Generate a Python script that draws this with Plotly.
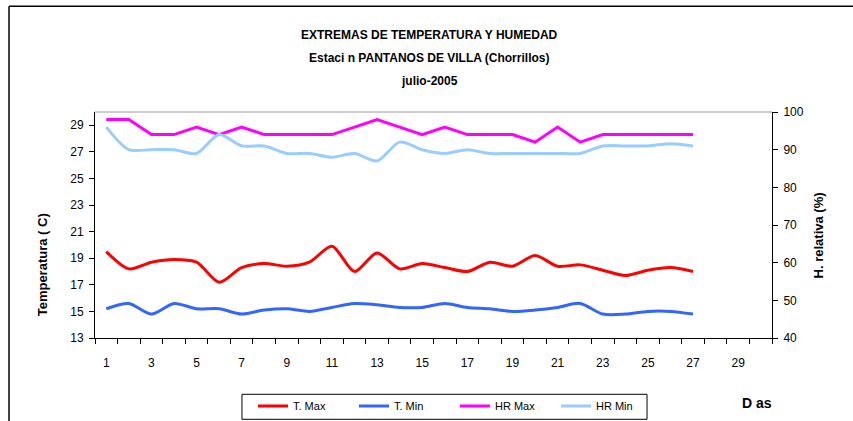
import plotly.graph_objects as go

days = list(range(1, 28))
t_max = [19.5, 18.2, 18.7, 18.9, 18.7, 17.2, 18.3, 18.6, 18.4, 18.7, 19.9, 18.0, 19.4, 18.2,
         18.6, 18.3, 18.0, 18.7, 18.4, 19.2, 18.4, 18.5, 18.1, 17.7, 18.1, 18.3, 18.0]
t_min = [15.2, 15.6, 14.8, 15.6, 15.2, 15.2, 14.8, 15.1, 15.2, 15.0, 15.3, 15.6, 15.5, 15.3,
         15.3, 15.6, 15.3, 15.2, 15.0, 15.1, 15.3, 15.6, 14.8, 14.8, 15.0, 15.0, 14.8]
hr_max = [98, 98, 94, 94, 96, 94, 96, 94, 94, 94, 94, 96, 98, 96,
          94, 96, 94, 94, 94, 92, 96, 92, 94, 94, 94, 94, 94]
hr_min = [96, 90, 90, 90, 89, 94, 91, 91, 89, 89, 88, 89, 87, 92,
          90, 89, 90, 89, 89, 89, 89, 89, 91, 91, 91, 91.6, 91]
x_ticks = list(range(1, 30, 2))

FONT = "Liberation Sans, Arial, sans-serif"

fig = go.Figure()
fig.add_trace(go.Scatter(x=days, y=t_max, name="T. Max", mode="lines",
                         line=dict(color="#FF0000", width=3, shape="spline", smoothing=0.8)))
fig.add_trace(go.Scatter(x=days, y=t_min, name="T. Min", mode="lines",
                         line=dict(color="#3366FF", width=3, shape="spline", smoothing=0.8)))
fig.add_trace(go.Scatter(x=days, y=hr_max, name="HR Max", mode="lines", yaxis="y2",
                         line=dict(color="#FF00FF", width=3)))
fig.add_trace(go.Scatter(x=days, y=hr_min, name="HR Min", mode="lines", yaxis="y2",
                         line=dict(color="#99CCFF", width=3, shape="spline", smoothing=0.8)))

def ann(text, x, y, size, angle=0):
    return dict(text=text, xref="paper", yref="paper", x=x, y=y, xanchor="center",
                yanchor="middle", showarrow=False, textangle=angle, font=dict(size=size))

fig.update_layout(
    width=853, height=421,
    margin=dict(l=95, r=81, t=112, b=83),
    paper_bgcolor="white", plot_bgcolor="white",
    font=dict(family=FONT, size=12, color="black"),
    showlegend=True,
    legend=dict(orientation="h", xref="container", yref="container",
                x=242/853, y=(421-406)/421, xanchor="left", yanchor="middle",
                borderwidth=0, bgcolor="rgba(0,0,0,0)",
                font=dict(size=11), entrywidth=45, entrywidthmode="pixels",
                indentation=11, tracegroupgap=0),
    xaxis=dict(range=[0.5, 30.5], tickvals=x_ticks, ticktext=[str(v) for v in x_ticks],
               ticks="", showgrid=False, zeroline=False, showline=True,
               linecolor="black", linewidth=1, ticklabelstandoff=14,
               tickfont=dict(size=12),
               minor=dict(tickvals=[0.5 + i for i in range(31)], ticks="outside",
                          ticklen=5, tickcolor="black", showgrid=False)),
    yaxis=dict(range=[13, 30], tickvals=list(range(13, 30, 2)), ticks="outside",
               ticklen=5, tickcolor="black", showgrid=False, zeroline=False,
               showline=True, linecolor="black", linewidth=1, ticklabelstandoff=3),
    yaxis2=dict(range=[40, 100], tickvals=list(range(40, 101, 10)), overlaying="y",
                side="right", ticks="outside", ticklen=5, tickcolor="black",
                showgrid=False, zeroline=False, showline=True, linecolor="black",
                linewidth=1, ticklabelstandoff=3),
    shapes=[
        dict(type="line", xref="paper", yref="paper", x0=0, x1=1, y0=1, y1=1,
             line=dict(color="#999999", width=1)),
        dict(type="line", xref="paper", yref="paper", x0=-0.127, x1=1.13, y0=1.4677, y1=1.4677,
             line=dict(color="black", width=1.5)),
        dict(type="line", xref="paper", yref="paper", x0=-0.127, x1=-0.127, y0=1.4677, y1=-0.38,
             line=dict(color="black", width=1.5)),
        dict(type="rect", xref="paper", yref="paper", x0=0.2171, x1=0.8154, y0=-0.2491, y1=-0.3597,
             line=dict(color="black", width=1)),
    ],
    annotations=[
        ann("<b>EXTREMAS DE TEMPERATURA Y HUMEDAD</b>", 0.4934, 1.339, 12),
        ann("<b>Estaci n PANTANOS DE VILLA (Chorrillos)</b>", 0.4934, 1.2376, 12),
        ann("<b>julio-2005</b>", 0.4934, 1.136, 12),
        ann("<b>Temperatura ( C)</b>", -0.0783, 0.326, 13, -90),
        ann("<b>H. relativa (%)</b>", 1.068, 0.454, 13, -90),
        ann("<b>D as</b>", 0.978, -0.289, 14),
    ],
)

fig.write_html("out.html", config={"displayModeBar": False},
               post_script="document.body.style.margin='0px';document.body.style.overflow='hidden';")
